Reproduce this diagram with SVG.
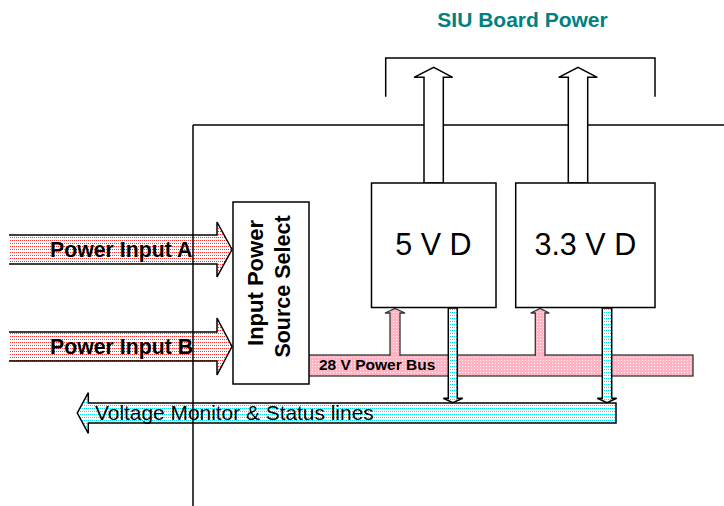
<svg xmlns="http://www.w3.org/2000/svg" width="724" height="506" viewBox="0 0 724 506">
<defs>
<pattern id="pRed" width="2" height="3" patternUnits="userSpaceOnUse">
<rect width="2" height="3" fill="#ffffff"/><rect width="1" height="1" fill="#ff3030"/>
</pattern>
<pattern id="pPink" width="3" height="3" patternUnits="userSpaceOnUse">
<rect width="3" height="3" fill="#ffb3c3"/><rect width="1" height="1" fill="#fff4f6"/>
</pattern>
<pattern id="pCyan" width="2" height="3" patternUnits="userSpaceOnUse">
<rect width="2" height="3" fill="#ffffff"/><rect width="1" height="1" fill="#00e0f0"/>
</pattern>
<style>
.ln{fill:none;stroke:#000;stroke-width:1.5}
.box{fill:#fff;stroke:#000;stroke-width:1.5}
.hollow{fill:#fff;stroke:#000;stroke-width:1.5;stroke-linejoin:miter}
.red{fill:url(#pRed)}
.pink{fill:url(#pPink);stroke:#333;stroke-width:1.3}
.cyan{fill:url(#pCyan);stroke:#000;stroke-width:1.5}
.lbl{font-family:"Liberation Sans",Arial,sans-serif;font-weight:bold;fill:#000}
.reg{font-family:"Liberation Sans",Arial,sans-serif;fill:#000}
</style>
</defs>
<rect width="724" height="506" fill="#fff"/>

<text x="522.5" y="27" text-anchor="middle" class="lbl" font-size="21" style="fill:#008080">SIU Board Power</text>

<g id="frame-top">
<line x1="193" y1="125" x2="724" y2="125" class="ln"/>
<polyline points="385.7,96.7 385.7,58 655,58 655,96.7" class="ln"/>
</g>

<g id="connectors">
<g id="out-5v">
<polygon points="424,183 424,77.3 414,77.3 433.7,67.3 452.7,77.3 443.3,77.3 443.3,183" class="hollow"/>
</g>
<g id="out-33v">
<polygon points="568.3,183 568.3,77.3 558.7,77.3 578,67.3 597.3,77.3 587.7,77.3 587.7,183" class="hollow"/>
</g>
<g id="power-input-a">
<polygon points="9,235 217,235 217,222 232,249.5 217,277 217,264 9,264" class="red"/>
<polyline points="9,235 217,235 217,222 232,249.5 217,277 217,264 9,264" class="ln"/>
<text x="50" y="256.5" class="lbl" font-size="21.3">Power Input A</text>
</g>
<g id="power-input-b">
<polygon points="9,332 217,332 217,318 232,346.5 217,375 217,361 9,361" class="red"/>
<polyline points="9,332 217,332 217,318 232,346.5 217,375 217,361 9,361" class="ln"/>
<text x="50" y="353.5" class="lbl" font-size="21.3">Power Input B</text>
</g>
<g id="bus-28v">
<rect x="308" y="355" width="385" height="21" class="pink"/>
<text x="319" y="370" class="lbl" font-size="15.5">28 V Power Bus</text>
<polygon points="390,355 390,313 385,313 395,308.5 405,313 400,313 400,355" class="pink"/>
<polygon points="535.3,355 535.3,313 530.7,313 540.2,308.5 549.3,313 545,313 545,355" class="pink"/>
<rect x="390.7" y="354" width="8.6" height="3" fill="#ffb3c3"/>
<rect x="536" y="354" width="8.3" height="3" fill="#ffb3c3"/>
</g>
<g id="voltage-monitor">
<polygon points="616,403 88.3,403 88.3,392.7 77.3,413 88.3,433.3 88.3,423 616,423" class="cyan"/>
<text x="95" y="420" class="reg" font-size="20.9">Voltage Monitor &amp; Status lines</text>
<polygon points="448.3,308 448.3,398.3 443.3,398.3 452.8,402.7 462.7,398.3 457.3,398.3 457.3,308" class="cyan"/>
<polygon points="602.3,308 602.3,398.3 597.3,398.3 607,402.7 616.7,398.3 611.7,398.3 611.7,308" class="cyan"/>
</g>
</g>

<g id="frame-left">
<line x1="193" y1="125" x2="193" y2="506" class="ln"/>
</g>

<g id="input-select">
<rect x="233" y="202" width="76" height="182" class="box"/>
<text transform="translate(263,283) rotate(-90)" text-anchor="middle" class="lbl" font-size="22">Input Power</text>
<text transform="translate(290,286.5) rotate(-90)" text-anchor="middle" class="lbl" font-size="21.5">Source  Select</text>
</g>

<g id="reg-5v">
<rect x="371.5" y="183" width="124.5" height="124.5" class="box"/>
<text x="433.5" y="255" text-anchor="middle" class="reg" font-size="30.5">5 V D</text>
</g>

<g id="reg-33v">
<rect x="515.7" y="183" width="139.3" height="124.5" class="box"/>
<text x="585.3" y="255" text-anchor="middle" class="reg" font-size="30.5">3.3 V D</text>
</g>
</svg>
